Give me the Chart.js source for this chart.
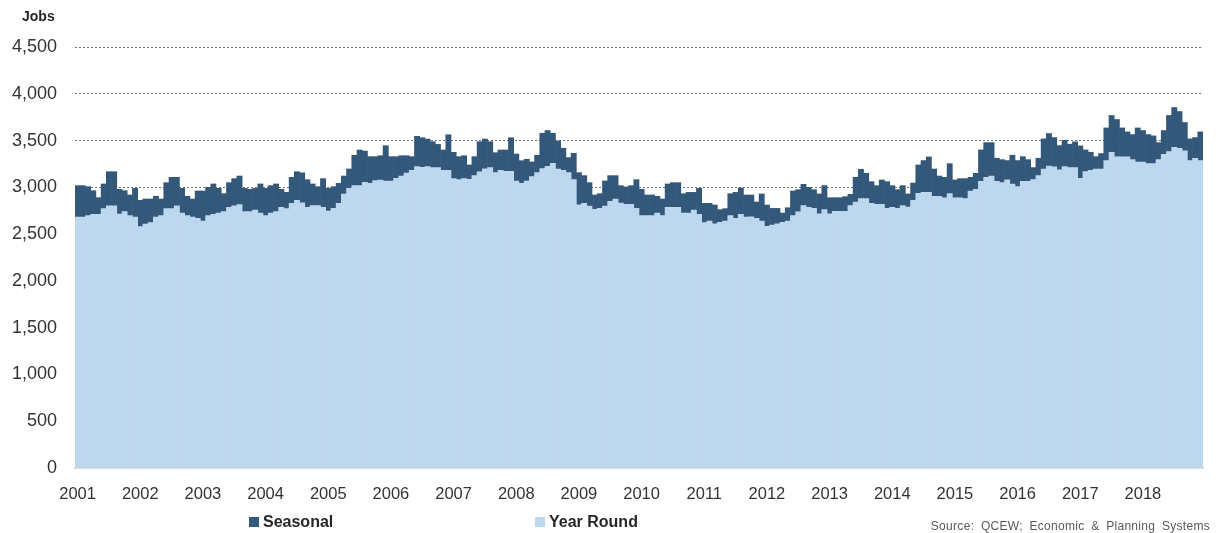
<!DOCTYPE html>
<html>
<head>
<meta charset="utf-8">
<script src="https://cdn.jsdelivr.net/npm/chart.js@4.4.1/dist/chart.umd.min.js"></script>
<style>
  body { margin: 0; background: #fff; }
  #wrap { position: relative; width: 1220px; height: 533px; font-family: "Liberation Sans", Arial, sans-serif; }
  #jobs { position: absolute; left: 22px; top: 8px; font-weight: bold; font-size: 14px; color: #262626; }
  .key { position: absolute; top: 513px; font-weight: bold; font-size: 16px; color: #262626; line-height: 18px; }
  .key i { display: inline-block; width: 10px; height: 10px; margin-right: 4px; vertical-align: 0px; }
  #source { position: absolute; right: 10px; top: 519px; font-size: 12px; color: #595959; letter-spacing: 0.3px; word-spacing: 3px; }
</style>
</head>
<body>
<div id="wrap">
  <canvas id="jobsChart" width="1220" height="533"></canvas>
  <div id="jobs">Jobs</div>
  <div class="key" style="left:249px"><i style="background:#33587a"></i>Seasonal</div>
  <div class="key" style="left:535px"><i style="background:#bdd7ee"></i>Year Round</div>
  <div id="source">Source: QCEW; Economic &amp; Planning Systems</div>
</div>
<script>
const years = ['2001', '2002', '2003', '2004', '2005', '2006', '2007', '2008', '2009',
  '2010', '2011', '2012', '2013', '2014', '2015', '2016', '2017', '2018'];
const months = ['Jan', 'Feb', 'Mar', 'Apr', 'May', 'Jun', 'Jul', 'Aug', 'Sep', 'Oct', 'Nov', 'Dec'];

// monthly jobs, one row per year
const yearRound = [
  2683, 2683, 2697, 2712, 2712, 2772, 2801, 2801, 2715, 2740, 2697, 2683,
  2580, 2608, 2623, 2683, 2697, 2772, 2772, 2801, 2726, 2697, 2683, 2669,
  2640, 2697, 2712, 2726, 2740, 2786, 2801, 2815, 2740, 2740, 2758, 2726,
  2697, 2726, 2740, 2786, 2772, 2829, 2861, 2835, 2786, 2804, 2804, 2786,
  2747, 2776, 2829, 2929, 2989, 3018, 3018, 3054, 3043, 3071, 3078, 3068,
  3068, 3096, 3121, 3153, 3182, 3221, 3214, 3221, 3210, 3210, 3182, 3182,
  3093, 3082, 3093, 3085, 3125, 3167, 3199, 3210, 3157, 3182, 3171, 3171,
  3068, 3043, 3068, 3114, 3157, 3200, 3225, 3257, 3196, 3182, 3157, 3082,
  2814, 2829, 2800, 2764, 2775, 2800, 2850, 2875, 2832, 2818, 2818, 2775,
  2697, 2697, 2697, 2725, 2697, 2786, 2786, 2786, 2725, 2725, 2757, 2711,
  2622, 2640, 2611, 2625, 2640, 2697, 2668, 2711, 2682, 2684, 2668, 2639,
  2582, 2596, 2611, 2625, 2639, 2697, 2739, 2804, 2786, 2775, 2718, 2761,
  2718, 2743, 2743, 2743, 2804, 2843, 2879, 2879, 2829, 2818, 2818, 2775,
  2786, 2775, 2804, 2789, 2861, 2936, 2946, 2946, 2904, 2904, 2889, 2932,
  2889, 2889, 2879, 2961, 2978, 3064, 3107, 3121, 3064, 3050, 3079, 3036,
  3007, 3064, 3064, 3082, 3125, 3196, 3228, 3218, 3186, 3221, 3211, 3211,
  3096, 3168, 3182, 3196, 3196, 3286, 3375, 3325, 3325, 3325, 3296, 3271,
  3271, 3253, 3253, 3296, 3353, 3382, 3428, 3418, 3389, 3286, 3311, 3286
];

const seasonal = [
  335, 335, 310, 252, 178, 264, 366, 366, 264, 224, 221, 306,
  281, 267, 252, 221, 178, 278, 335, 306, 263, 207, 192, 292,
  321, 303, 324, 263, 192, 264, 292, 306, 249, 239, 231, 310,
  292, 292, 296, 193, 175, 278, 306, 320, 296, 232, 203, 307,
  242, 231, 214, 192, 207, 324, 381, 334, 285, 257, 260, 377,
  260, 232, 217, 185, 146, 324, 316, 295, 278, 249, 217, 380,
  281, 246, 245, 154, 203, 321, 317, 278, 213, 217, 228, 359,
  288, 242, 232, 157, 186, 378, 382, 321, 300, 236, 161, 282,
  343, 296, 250, 154, 157, 268, 275, 250, 186, 186, 200, 307,
  282, 221, 221, 179, 178, 250, 264, 264, 207, 221, 189, 278,
  207, 189, 200, 136, 132, 235, 278, 282, 236, 234, 175, 290,
  229, 179, 164, 100, 143, 264, 236, 228, 214, 200, 211, 257,
  171, 146, 146, 157, 121, 264, 314, 271, 232, 200, 261, 286,
  232, 200, 214, 140, 185, 303, 340, 379, 292, 217, 218, 321,
  190, 204, 214, 146, 172, 336, 371, 357, 247, 246, 207, 307,
  279, 264, 232, 129, 186, 322, 347, 314, 260, 282, 250, 275,
  347, 232, 193, 132, 165, 349, 393, 400, 310, 268, 268, 364,
  336, 311, 297, 182, 254, 386, 425, 392, 304, 232, 221, 307
];

const labels = [];
years.forEach(y => months.forEach(m => labels.push(m + ' ' + y)));

const tickFont = { family: '"Liberation Sans", Arial, sans-serif' };

const data = {
  labels: labels,
  datasets: [
    {
      label: 'Year Round',
      data: yearRound,
      backgroundColor: '#bdd7ee',
      borderWidth: 0,
      barPercentage: 1,
      categoryPercentage: 1
    },
    {
      label: 'Seasonal',
      data: seasonal,
      backgroundColor: '#33587a',
      borderWidth: 0,
      barPercentage: 1,
      categoryPercentage: 1
    }
  ]
};

const hideZero = (ctx, col) => (ctx.tick && ctx.tick.value === 0 ? 'rgba(0,0,0,0)' : col);

const config = {
  type: 'bar',
  data: data,
  options: {
    responsive: false,
    animation: false,
    events: [],
    layout: { padding: { left: 10, top: 47, right: 17, bottom: 0 } },
    plugins: { legend: { display: false }, tooltip: { enabled: false } },
    scales: {
      x: {
        stacked: true,
        grid: { display: false, drawTicks: false },
        border: { display: true, color: '#d9d9d9', width: 2 },
        ticks: {
          autoSkip: false,
          maxRotation: 0,
          padding: 17,
          color: '#333',
          font: { ...tickFont, size: 16.5 },
          callback: (v, i) => (i % 12 === 0 ? years[i / 12] : null)
        },
        afterFit: s => { s.height = 65; }
      },
      y: {
        stacked: true,
        min: 0,
        max: 4500,
        ticks: {
          stepSize: 500,
          padding: 18,
          color: '#333',
          font: { ...tickFont, size: 18 },
          callback: v => v.toLocaleString('en-US')
        },
        grid: { drawTicks: false, lineWidth: 1, color: ctx => hideZero(ctx, '#666') },
        border: { display: false, dash: [2, 2] },
        afterFit: s => { s.width = 65; }
      },
      // second copy of the grid, drawn over the bars
      y2: {
        position: 'left',
        min: 0,
        max: 4500,
        z: 1,
        ticks: { display: false, stepSize: 500 },
        grid: { drawTicks: false, lineWidth: 1, color: ctx => hideZero(ctx, 'rgba(120,125,130,0.4)') },
        border: { display: false, dash: [2, 2] },
        afterFit: s => { s.width = 0; }
      }
    }
  }
};

const jobsChart = new Chart(document.getElementById('jobsChart').getContext('2d'), config);
</script>
</body>
</html>
